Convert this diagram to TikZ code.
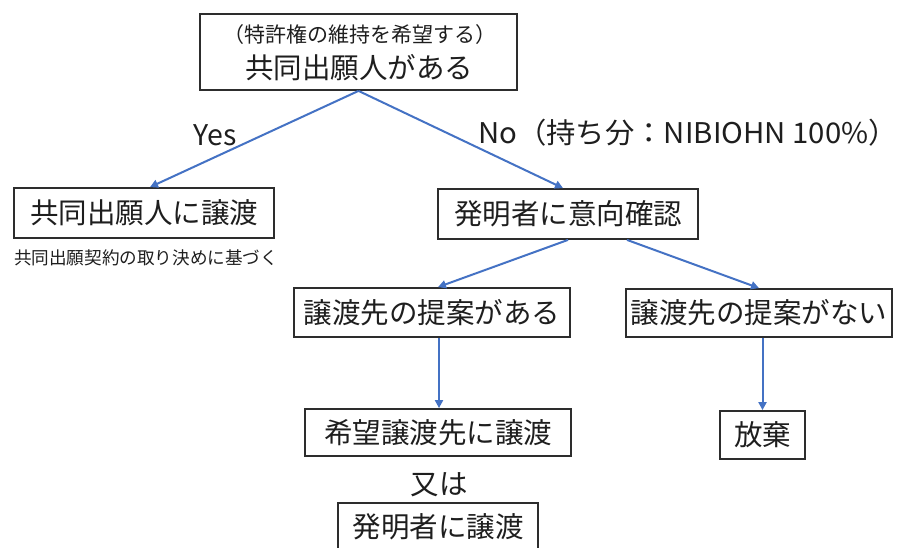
\documentclass[tikz,border=0pt]{standalone}
\usepackage{fontspec}
\setmainfont{Noto Sans CJK JP}
\usetikzlibrary{arrows.meta,calc}
\definecolor{lineblue}{RGB}{68,114,196}
\definecolor{txtc}{RGB}{30,30,30}
\definecolor{boxc}{RGB}{45,45,45}
\newcommand{\bigtxt}{\fontsize{28.5pt}{34pt}\selectfont}
\newcommand{\midtxt}{\fontsize{21pt}{25pt}\selectfont}
\newcommand{\smtxt}{\fontsize{17.6pt}{20pt}\selectfont}
\tikzset{
  fbox/.style={draw=boxc, line width=1.8pt, inner sep=0pt, text=txtc, font=\bigtxt},
  conn/.style={draw=lineblue, line width=2pt, -{Triangle[length=8pt,width=8pt]}},
  plain/.style={inner sep=0pt, text=txtc},
}
\begin{document}
\begin{tikzpicture}[x=1pt,y=-1pt]
\useasboundingbox (0,0) rectangle (904,547);
% boxes
\node[fbox, minimum width=317pt, minimum height=76pt] (top) at (358.5,52) {};
\node[plain, font=\midtxt] (toptxta) at (360,35) {（特許権の維持を希望する）};
\node[plain, font=\bigtxt] (toptxtb) at (359,68) {共同出願人がある};
\node[fbox, minimum width=260pt, minimum height=50pt] (b2) at (144,213) {共同出願人に譲渡};
\node[plain, font=\smtxt] (b2sub) at (146,258) {共同出願契約の取り決めに基づく};
\node[fbox, minimum width=260pt, minimum height=50pt] (b3) at (568,214) {発明者に意向確認};
\node[fbox, minimum width=276pt, minimum height=49pt] (b4) at (432,312.5) {譲渡先の提案がある};
\node[fbox, minimum width=266pt, minimum height=48pt] (b5) at (759,313) {譲渡先の提案がない};
\node[fbox, minimum width=266pt, minimum height=47pt] (b6) at (438,432.5) {希望譲渡先に譲渡};
\node[plain, font=\bigtxt] (or) at (439,485) {又は};
\node[fbox, minimum width=200pt, minimum height=48pt] (b8) at (438,527) {発明者に譲渡};
\node[fbox, minimum width=85pt, minimum height=48pt] (b7) at (762.5,435) {放棄};
% labels
\node[plain, font=\bigtxt] (yes) at (215,135) {Yes};
\node[plain, font=\bigtxt, anchor=west] (no) at (478,133) {\scalebox{1.03}[1]{No（持ち分：NIBIOHN 100\%）}};
% connectors
\coordinate (b3r) at ($(b3.south)+(59,0)$);
\draw[conn] (top.south) -- ($(b2.north)+(6,0)$);
\draw[conn] (top.south) -- ($(b3.north)+(-5,0)$);
\draw[conn] (b3.south) -- ($(b4.north)+(6,0)$);
\draw[conn] (b3r) -- (b5.north);
\draw[conn] ($(b6.north |- b4.south)+(1,0)$) -- ($(b6.north)+(1,0)$);
\draw[conn] (b7.north |- b5.south) -- (b7.north);
\end{tikzpicture}
\end{document}
